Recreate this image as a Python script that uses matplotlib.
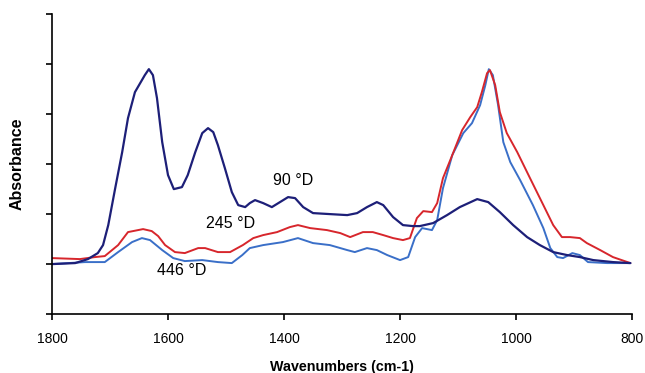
import matplotlib
matplotlib.use("Agg")
import matplotlib.pyplot as plt

plt.rcParams['font.family'] = ['Liberation Sans', 'DejaVu Sans']

# spectra (wavenumber, absorbance)
wn_90 = [1800, 1760, 1738, 1721, 1712, 1703, 1691, 1679, 1669, 1657, 1648, 1640, 1633,
         1626, 1619, 1610, 1600, 1590, 1576, 1566, 1553, 1541, 1531, 1522, 1514, 1502,
         1490, 1479, 1467, 1459, 1450, 1436, 1421, 1407, 1393, 1381, 1367, 1350, 1321,
         1291, 1274, 1257, 1240, 1229, 1212, 1195, 1178, 1166, 1143, 1119, 1097, 1067,
         1048, 1028, 1005, 981, 959, 936, 912, 890, 867, 833, 803]
abs_90 = [1.00, 1.02, 1.10, 1.22, 1.38, 1.78, 2.52, 3.24, 3.92, 4.44, 4.62, 4.78, 4.90,
          4.78, 4.32, 3.44, 2.78, 2.50, 2.54, 2.78, 3.24, 3.62, 3.72, 3.64, 3.38, 2.92,
          2.44, 2.18, 2.14, 2.22, 2.28, 2.22, 2.14, 2.24, 2.34, 2.32, 2.14, 2.02, 2.00,
          1.98, 2.02, 2.14, 2.24, 2.18, 1.94, 1.78, 1.76, 1.76, 1.82, 1.98, 2.14, 2.30,
          2.24, 2.04, 1.78, 1.54, 1.38, 1.24, 1.18, 1.14, 1.08, 1.04, 1.02]

wn_245 = [1800, 1752, 1726, 1709, 1686, 1669, 1643, 1628, 1617, 1605, 1588, 1571, 1548,
          1536, 1514, 1493, 1471, 1453, 1436, 1412, 1390, 1376, 1355, 1326, 1303, 1286,
          1264, 1247, 1229, 1212, 1195, 1183, 1171, 1160, 1145, 1136, 1126, 1110, 1093,
          1079, 1067, 1059, 1050, 1045, 1036, 1028, 1016, 998, 976, 953, 936, 921, 907,
          890, 878, 855, 833, 803]
abs_245 = [1.12, 1.10, 1.14, 1.16, 1.38, 1.64, 1.70, 1.66, 1.56, 1.38, 1.24, 1.22, 1.32,
           1.32, 1.24, 1.24, 1.38, 1.52, 1.58, 1.64, 1.74, 1.78, 1.72, 1.68, 1.62, 1.54,
           1.64, 1.64, 1.58, 1.52, 1.48, 1.52, 1.92, 2.06, 2.04, 2.22, 2.72, 3.18, 3.68,
           3.94, 4.14, 4.44, 4.82, 4.88, 4.58, 4.04, 3.62, 3.24, 2.72, 2.18, 1.78, 1.54, 1.54,
           1.52, 1.42, 1.28, 1.14, 1.02]

wn_446 = [1800, 1743, 1709, 1686, 1662, 1645, 1631, 1610, 1591, 1571, 1541, 1514, 1490,
          1472, 1459, 1436, 1402, 1376, 1350, 1321, 1291, 1278, 1257, 1240, 1222, 1200,
          1186, 1174, 1162, 1145, 1136, 1126, 1110, 1091, 1076, 1062, 1053, 1047, 1040,
          1031, 1022, 1010, 993, 971, 953, 941, 929, 919, 903, 890, 876, 843, 803]
abs_446 = [1.00, 1.04, 1.04, 1.24, 1.44, 1.52, 1.48, 1.28, 1.12, 1.06, 1.08, 1.04, 1.02,
           1.18, 1.32, 1.38, 1.44, 1.52, 1.42, 1.38, 1.28, 1.24, 1.32, 1.28, 1.18, 1.08,
           1.14, 1.54, 1.72, 1.68, 1.88, 2.52, 3.18, 3.62, 3.82, 4.18, 4.58, 4.90, 4.78,
           4.18, 3.44, 3.04, 2.68, 2.18, 1.72, 1.32, 1.14, 1.12, 1.22, 1.18, 1.04, 1.02, 1.02]

fig = plt.figure(figsize=(6.45, 3.73), dpi=100)
ax = fig.add_axes([0.0806, 0.158, 0.8994, 0.804])

line_kw = dict(solid_joinstyle='round', solid_capstyle='round')
ax.plot(wn_446, abs_446, color='#3a6fc8', lw=1.4, **line_kw)
ax.plot(wn_245, abs_245, color='#d7262c', lw=1.4, **line_kw)
ax.plot(wn_90, abs_90, color='#1d1f78', lw=1.6, **line_kw)

ax.text(1384, 2.68, '90 °D', fontsize=11.5, ha='center', va='center')
ax.text(1493, 1.82, '245 °D', fontsize=11.5, ha='center', va='center')
ax.text(1576, 0.88, '446 °D', fontsize=11.5, ha='center', va='center')

ax.set_xlim(1800, 800)
ax.set_ylim(0, 6)
ax.set_xticks([1800, 1600, 1400, 1200, 1000, 800])
ax.set_yticks([0, 1, 2, 3, 4, 5, 6])
ax.set_yticklabels([])
ax.tick_params(direction='out', length=4, width=1.2, labelsize=10)
ax.tick_params(axis='x', pad=9)
for s in ['top', 'right']:
    ax.spines[s].set_visible(False)
for s in ['left', 'bottom']:
    ax.spines[s].set_linewidth(1.2)

ax.set_xlabel('Wavenumbers (cm-1)', fontsize=10.3, fontweight='bold', labelpad=10)
ax.set_ylabel('Absorbance', fontsize=11.5, fontweight='bold', labelpad=12)

fig.savefig('out.png', dpi=100)
